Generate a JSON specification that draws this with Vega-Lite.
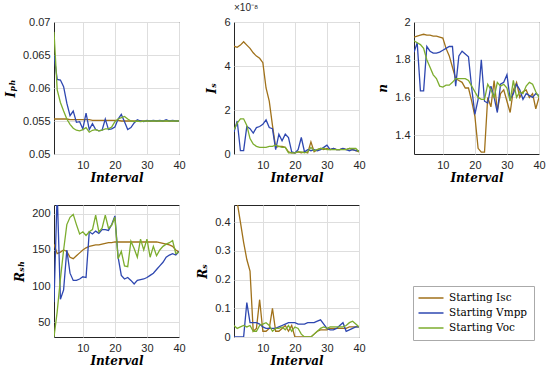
{
"$schema": "https://vega.github.io/schema/vega-lite/v6.json",
"background": "white",
"padding": {"left": 3, "top": 2, "right": 0, "bottom": 0},
"datasets": {
"d": [
{"s":"Starting Isc","x":1,"Iph":0.0553,"Is":4.9e-8,"n":1.92,"Rsh":158,"Rs":0.60},
{"s":"Starting Isc","x":2,"Iph":0.0553,"Is":4.85e-8,"n":1.925,"Rsh":145,"Rs":0.47},
{"s":"Starting Isc","x":3,"Iph":0.0553,"Is":4.95e-8,"n":1.93,"Rsh":147,"Rs":0.40},
{"s":"Starting Isc","x":4,"Iph":0.0553,"Is":5.1e-8,"n":1.935,"Rsh":150,"Rs":0.33},
{"s":"Starting Isc","x":5,"Iph":0.0553,"Is":4.95e-8,"n":1.93,"Rsh":148,"Rs":0.27},
{"s":"Starting Isc","x":6,"Iph":0.0552,"Is":4.8e-8,"n":1.93,"Rsh":140,"Rs":0.23},
{"s":"Starting Isc","x":7,"Iph":0.0552,"Is":4.6e-8,"n":1.925,"Rsh":138,"Rs":0.02},
{"s":"Starting Isc","x":8,"Iph":0.0552,"Is":4.45e-8,"n":1.925,"Rsh":142,"Rs":0.03},
{"s":"Starting Isc","x":9,"Iph":0.0552,"Is":4.35e-8,"n":1.92,"Rsh":146,"Rs":0.13},
{"s":"Starting Isc","x":10,"Iph":0.0552,"Is":4.15e-8,"n":1.915,"Rsh":150,"Rs":0.02},
{"s":"Starting Isc","x":11,"Iph":0.0552,"Is":3.0e-8,"n":1.86,"Rsh":153,"Rs":0.02},
{"s":"Starting Isc","x":12,"Iph":0.0552,"Is":2.4e-8,"n":1.82,"Rsh":155,"Rs":0.03},
{"s":"Starting Isc","x":13,"Iph":0.0551,"Is":1.3e-8,"n":1.76,"Rsh":156,"Rs":0.10},
{"s":"Starting Isc","x":14,"Iph":0.0551,"Is":0.3e-8,"n":1.70,"Rsh":157,"Rs":0.02},
{"s":"Starting Isc","x":15,"Iph":0.0551,"Is":0.35e-8,"n":1.69,"Rsh":157,"Rs":0.02},
{"s":"Starting Isc","x":16,"Iph":0.0551,"Is":0.35e-8,"n":1.68,"Rsh":158,"Rs":0.03},
{"s":"Starting Isc","x":17,"Iph":0.0551,"Is":0.3e-8,"n":1.65,"Rsh":159,"Rs":0.04},
{"s":"Starting Isc","x":18,"Iph":0.0551,"Is":0.1e-8,"n":1.65,"Rsh":160,"Rs":0.02},
{"s":"Starting Isc","x":19,"Iph":0.0551,"Is":0.05e-8,"n":1.58,"Rsh":160,"Rs":0.04},
{"s":"Starting Isc","x":20,"Iph":0.0551,"Is":0.05e-8,"n":1.50,"Rsh":161,"Rs":0.0},
{"s":"Starting Isc","x":21,"Iph":0.0551,"Is":0.1e-8,"n":1.33,"Rsh":161,"Rs":0.0},
{"s":"Starting Isc","x":22,"Iph":0.0550,"Is":0.05e-8,"n":1.31,"Rsh":161,"Rs":0.0},
{"s":"Starting Isc","x":23,"Iph":0.0550,"Is":0.1e-8,"n":1.31,"Rsh":161,"Rs":0.0},
{"s":"Starting Isc","x":24,"Iph":0.0550,"Is":0.05e-8,"n":1.60,"Rsh":161,"Rs":0.0},
{"s":"Starting Isc","x":25,"Iph":0.0550,"Is":0.55e-8,"n":1.55,"Rsh":161,"Rs":0.0},
{"s":"Starting Isc","x":26,"Iph":0.0550,"Is":0.1e-8,"n":1.69,"Rsh":161,"Rs":0.01},
{"s":"Starting Isc","x":27,"Iph":0.0550,"Is":0.2e-8,"n":1.53,"Rsh":161,"Rs":0.02},
{"s":"Starting Isc","x":28,"Iph":0.0550,"Is":0.25e-8,"n":1.62,"Rsh":161,"Rs":0.025},
{"s":"Starting Isc","x":29,"Iph":0.0550,"Is":0.2e-8,"n":1.64,"Rsh":161,"Rs":0.025},
{"s":"Starting Isc","x":30,"Iph":0.0550,"Is":0.25e-8,"n":1.58,"Rsh":161,"Rs":0.025},
{"s":"Starting Isc","x":31,"Iph":0.0550,"Is":0.2e-8,"n":1.52,"Rsh":161,"Rs":0.03},
{"s":"Starting Isc","x":32,"Iph":0.0550,"Is":0.25e-8,"n":1.64,"Rsh":161,"Rs":0.03},
{"s":"Starting Isc","x":33,"Iph":0.0550,"Is":0.2e-8,"n":1.68,"Rsh":161,"Rs":0.03},
{"s":"Starting Isc","x":34,"Iph":0.0550,"Is":0.2e-8,"n":1.60,"Rsh":160,"Rs":0.03},
{"s":"Starting Isc","x":35,"Iph":0.0550,"Is":0.25e-8,"n":1.63,"Rsh":159,"Rs":0.03},
{"s":"Starting Isc","x":36,"Iph":0.0550,"Is":0.2e-8,"n":1.64,"Rsh":158,"Rs":0.03},
{"s":"Starting Isc","x":37,"Iph":0.0550,"Is":0.25e-8,"n":1.60,"Rsh":157,"Rs":0.035},
{"s":"Starting Isc","x":38,"Iph":0.0550,"Is":0.2e-8,"n":1.62,"Rsh":155,"Rs":0.035},
{"s":"Starting Isc","x":39,"Iph":0.0550,"Is":0.15e-8,"n":1.54,"Rsh":150,"Rs":0.035},
{"s":"Starting Isc","x":40,"Iph":0.0550,"Is":0.1e-8,"n":1.60,"Rsh":147,"Rs":0.035},
{"s":"Starting Vmpp","x":1,"Iph":0.0650,"Is":1.0e-8,"n":1.84,"Rsh":78,"Rs":0.0},
{"s":"Starting Vmpp","x":2,"Iph":0.0613,"Is":1.5e-8,"n":1.89,"Rsh":230,"Rs":0.0},
{"s":"Starting Vmpp","x":3,"Iph":0.0612,"Is":0.15e-8,"n":1.635,"Rsh":82,"Rs":0.0},
{"s":"Starting Vmpp","x":4,"Iph":0.0602,"Is":0.15e-8,"n":1.635,"Rsh":95,"Rs":0.0},
{"s":"Starting Vmpp","x":5,"Iph":0.0577,"Is":1.25e-8,"n":1.87,"Rsh":150,"Rs":0.12},
{"s":"Starting Vmpp","x":6,"Iph":0.0558,"Is":1.15e-8,"n":1.845,"Rsh":118,"Rs":0.05},
{"s":"Starting Vmpp","x":7,"Iph":0.0565,"Is":0.95e-8,"n":1.835,"Rsh":108,"Rs":0.05},
{"s":"Starting Vmpp","x":8,"Iph":0.0548,"Is":1.2e-8,"n":1.835,"Rsh":108,"Rs":0.05},
{"s":"Starting Vmpp","x":9,"Iph":0.0549,"Is":1.25e-8,"n":1.84,"Rsh":110,"Rs":0.045},
{"s":"Starting Vmpp","x":10,"Iph":0.0538,"Is":1.35e-8,"n":1.85,"Rsh":113,"Rs":0.035},
{"s":"Starting Vmpp","x":11,"Iph":0.0562,"Is":1.55e-8,"n":1.86,"Rsh":112,"Rs":0.03},
{"s":"Starting Vmpp","x":12,"Iph":0.0537,"Is":1.2e-8,"n":1.87,"Rsh":175,"Rs":0.03},
{"s":"Starting Vmpp","x":13,"Iph":0.0546,"Is":1.15e-8,"n":1.87,"Rsh":172,"Rs":0.03},
{"s":"Starting Vmpp","x":14,"Iph":0.0537,"Is":0.2e-8,"n":1.66,"Rsh":176,"Rs":0.03},
{"s":"Starting Vmpp","x":15,"Iph":0.0535,"Is":0.9e-8,"n":1.82,"Rsh":173,"Rs":0.035},
{"s":"Starting Vmpp","x":16,"Iph":0.0536,"Is":0.6e-8,"n":1.845,"Rsh":178,"Rs":0.04},
{"s":"Starting Vmpp","x":17,"Iph":0.0553,"Is":0.9e-8,"n":1.83,"Rsh":178,"Rs":0.045},
{"s":"Starting Vmpp","x":18,"Iph":0.0537,"Is":0.75e-8,"n":1.815,"Rsh":177,"Rs":0.05},
{"s":"Starting Vmpp","x":19,"Iph":0.0538,"Is":0.1e-8,"n":1.65,"Rsh":185,"Rs":0.05},
{"s":"Starting Vmpp","x":20,"Iph":0.0541,"Is":0.05e-8,"n":1.51,"Rsh":197,"Rs":0.05},
{"s":"Starting Vmpp","x":21,"Iph":0.0553,"Is":0.2e-8,"n":1.59,"Rsh":140,"Rs":0.045},
{"s":"Starting Vmpp","x":22,"Iph":0.0560,"Is":0.75e-8,"n":1.80,"Rsh":115,"Rs":0.045},
{"s":"Starting Vmpp","x":23,"Iph":0.0549,"Is":0.1e-8,"n":1.58,"Rsh":110,"Rs":0.045},
{"s":"Starting Vmpp","x":24,"Iph":0.0537,"Is":0.2e-8,"n":1.57,"Rsh":112,"Rs":0.05},
{"s":"Starting Vmpp","x":25,"Iph":0.0540,"Is":0.15e-8,"n":1.66,"Rsh":108,"Rs":0.05},
{"s":"Starting Vmpp","x":26,"Iph":0.0547,"Is":0.2e-8,"n":1.60,"Rsh":103,"Rs":0.05},
{"s":"Starting Vmpp","x":27,"Iph":0.0552,"Is":0.15e-8,"n":1.52,"Rsh":108,"Rs":0.055},
{"s":"Starting Vmpp","x":28,"Iph":0.0550,"Is":0.2e-8,"n":1.67,"Rsh":109,"Rs":0.06},
{"s":"Starting Vmpp","x":29,"Iph":0.0549,"Is":0.3e-8,"n":1.68,"Rsh":110,"Rs":0.045},
{"s":"Starting Vmpp","x":30,"Iph":0.0551,"Is":0.4e-8,"n":1.72,"Rsh":112,"Rs":0.03},
{"s":"Starting Vmpp","x":31,"Iph":0.0550,"Is":0.2e-8,"n":1.59,"Rsh":115,"Rs":0.025},
{"s":"Starting Vmpp","x":32,"Iph":0.0551,"Is":0.25e-8,"n":1.62,"Rsh":118,"Rs":0.025},
{"s":"Starting Vmpp","x":33,"Iph":0.0550,"Is":0.2e-8,"n":1.67,"Rsh":123,"Rs":0.03},
{"s":"Starting Vmpp","x":34,"Iph":0.0551,"Is":0.2e-8,"n":1.64,"Rsh":128,"Rs":0.04},
{"s":"Starting Vmpp","x":35,"Iph":0.0550,"Is":0.25e-8,"n":1.59,"Rsh":133,"Rs":0.05},
{"s":"Starting Vmpp","x":36,"Iph":0.0552,"Is":0.2e-8,"n":1.62,"Rsh":140,"Rs":0.02},
{"s":"Starting Vmpp","x":37,"Iph":0.0550,"Is":0.15e-8,"n":1.61,"Rsh":143,"Rs":0.025},
{"s":"Starting Vmpp","x":38,"Iph":0.0551,"Is":0.2e-8,"n":1.60,"Rsh":145,"Rs":0.03},
{"s":"Starting Vmpp","x":39,"Iph":0.0550,"Is":0.15e-8,"n":1.62,"Rsh":143,"Rs":0.035},
{"s":"Starting Vmpp","x":40,"Iph":0.0550,"Is":0.15e-8,"n":1.61,"Rsh":148,"Rs":0.035},
{"s":"Starting Voc","x":1,"Iph":0.0685,"Is":1.1e-8,"n":1.90,"Rsh":30,"Rs":0.04},
{"s":"Starting Voc","x":2,"Iph":0.0597,"Is":1.4e-8,"n":1.89,"Rsh":65,"Rs":0.03},
{"s":"Starting Voc","x":3,"Iph":0.0578,"Is":1.6e-8,"n":1.88,"Rsh":110,"Rs":0.035},
{"s":"Starting Voc","x":4,"Iph":0.0565,"Is":1.6e-8,"n":1.86,"Rsh":150,"Rs":0.04},
{"s":"Starting Voc","x":5,"Iph":0.0553,"Is":1.3e-8,"n":1.80,"Rsh":185,"Rs":0.035},
{"s":"Starting Voc","x":6,"Iph":0.0545,"Is":0.7e-8,"n":1.76,"Rsh":195,"Rs":0.04},
{"s":"Starting Voc","x":7,"Iph":0.0539,"Is":0.45e-8,"n":1.72,"Rsh":199,"Rs":0.02},
{"s":"Starting Voc","x":8,"Iph":0.0536,"Is":0.35e-8,"n":1.70,"Rsh":185,"Rs":0.02},
{"s":"Starting Voc","x":9,"Iph":0.0535,"Is":0.3e-8,"n":1.66,"Rsh":172,"Rs":0.04},
{"s":"Starting Voc","x":10,"Iph":0.0537,"Is":0.3e-8,"n":1.655,"Rsh":175,"Rs":0.045},
{"s":"Starting Voc","x":11,"Iph":0.0540,"Is":0.3e-8,"n":1.665,"Rsh":170,"Rs":0.05},
{"s":"Starting Voc","x":12,"Iph":0.0533,"Is":0.35e-8,"n":1.665,"Rsh":175,"Rs":0.04},
{"s":"Starting Voc","x":13,"Iph":0.0536,"Is":0.35e-8,"n":1.68,"Rsh":178,"Rs":0.02},
{"s":"Starting Voc","x":14,"Iph":0.0537,"Is":0.4e-8,"n":1.70,"Rsh":198,"Rs":0.03},
{"s":"Starting Voc","x":15,"Iph":0.0535,"Is":0.35e-8,"n":1.70,"Rsh":175,"Rs":0.03},
{"s":"Starting Voc","x":16,"Iph":0.0536,"Is":0.3e-8,"n":1.70,"Rsh":180,"Rs":0.035},
{"s":"Starting Voc","x":17,"Iph":0.0538,"Is":0.3e-8,"n":1.70,"Rsh":198,"Rs":0.025},
{"s":"Starting Voc","x":18,"Iph":0.0538,"Is":0.05e-8,"n":1.69,"Rsh":180,"Rs":0.04},
{"s":"Starting Voc","x":19,"Iph":0.0541,"Is":0.05e-8,"n":1.66,"Rsh":184,"Rs":0.02},
{"s":"Starting Voc","x":20,"Iph":0.0549,"Is":0.05e-8,"n":1.63,"Rsh":195,"Rs":0.035},
{"s":"Starting Voc","x":21,"Iph":0.0553,"Is":0.1e-8,"n":1.60,"Rsh":138,"Rs":0.03},
{"s":"Starting Voc","x":22,"Iph":0.0555,"Is":0.1e-8,"n":1.59,"Rsh":148,"Rs":0.01},
{"s":"Starting Voc","x":23,"Iph":0.0557,"Is":0.05e-8,"n":1.59,"Rsh":128,"Rs":0.0},
{"s":"Starting Voc","x":24,"Iph":0.0553,"Is":0.1e-8,"n":1.67,"Rsh":127,"Rs":0.0},
{"s":"Starting Voc","x":25,"Iph":0.0550,"Is":0.3e-8,"n":1.64,"Rsh":162,"Rs":0.0},
{"s":"Starting Voc","x":26,"Iph":0.0549,"Is":0.15e-8,"n":1.60,"Rsh":152,"Rs":0.01},
{"s":"Starting Voc","x":27,"Iph":0.0550,"Is":0.2e-8,"n":1.68,"Rsh":140,"Rs":0.02},
{"s":"Starting Voc","x":28,"Iph":0.0549,"Is":0.25e-8,"n":1.66,"Rsh":165,"Rs":0.03},
{"s":"Starting Voc","x":29,"Iph":0.0550,"Is":0.25e-8,"n":1.67,"Rsh":150,"Rs":0.035},
{"s":"Starting Voc","x":30,"Iph":0.0550,"Is":0.2e-8,"n":1.65,"Rsh":165,"Rs":0.03},
{"s":"Starting Voc","x":31,"Iph":0.0550,"Is":0.2e-8,"n":1.58,"Rsh":140,"Rs":0.035},
{"s":"Starting Voc","x":32,"Iph":0.0550,"Is":0.2e-8,"n":1.69,"Rsh":155,"Rs":0.035},
{"s":"Starting Voc","x":33,"Iph":0.0550,"Is":0.2e-8,"n":1.60,"Rsh":142,"Rs":0.035},
{"s":"Starting Voc","x":34,"Iph":0.0550,"Is":0.2e-8,"n":1.63,"Rsh":150,"Rs":0.035},
{"s":"Starting Voc","x":35,"Iph":0.0550,"Is":0.2e-8,"n":1.62,"Rsh":155,"Rs":0.035},
{"s":"Starting Voc","x":36,"Iph":0.0550,"Is":0.2e-8,"n":1.66,"Rsh":158,"Rs":0.04},
{"s":"Starting Voc","x":37,"Iph":0.0550,"Is":0.25e-8,"n":1.68,"Rsh":160,"Rs":0.05},
{"s":"Starting Voc","x":38,"Iph":0.0550,"Is":0.25e-8,"n":1.67,"Rsh":163,"Rs":0.055},
{"s":"Starting Voc","x":39,"Iph":0.0550,"Is":0.25e-8,"n":1.63,"Rsh":145,"Rs":0.045},
{"s":"Starting Voc","x":40,"Iph":0.0550,"Is":0.1e-8,"n":1.60,"Rsh":147,"Rs":0.035}
]
},
"data": {"name": "d"},
"columns": 3,
"spacing": {"column": 55, "row": 51},
"bounds": "flush",
"concat": [
{"width":125,"height":132,
 "mark":{"type":"line","clip":true,"strokeWidth":1.3},
 "encoding":{
  "x":{"field":"x","type":"quantitative","scale":{"domain":[1,40],"nice":false},"axis":{"values":[10,20,30,40],"title":"Interval"}},
  "y":{"field":"Iph","type":"quantitative","scale":{"domain":[0.05,0.07],"nice":false,"zero":false},"axis":{"values":[0.05,0.055,0.06,0.065,0.07],"format":"~g","title":"Iₚₕ"}},
  "color":{"field":"s","type":"nominal","scale":{"domain":["Starting Isc","Starting Vmpp","Starting Voc"],"range":["#A0711A","#2E47B0","#7CAD2E"]},"legend":{"title":null}}}},
{"width":125,"height":132,
 "title":{"text":"×10⁻⁸","anchor":"start","frame":"group","fontSize":10,"font":"Liberation Sans","fontWeight":"normal","color":"#262626","offset":3},
 "mark":{"type":"line","clip":true,"strokeWidth":1.3},
 "encoding":{
  "x":{"field":"x","type":"quantitative","scale":{"domain":[1,40],"nice":false},"axis":{"values":[10,20,30,40],"title":"Interval"}},
  "y":{"field":"Is","type":"quantitative","scale":{"domain":[0,6e-8],"nice":false},"axis":{"values":[0,2e-8,4e-8,6e-8],"labelExpr":"format(datum.value*1e8,'~g')","title":"Iₛ"}},
  "color":{"field":"s","type":"nominal","scale":{"domain":["Starting Isc","Starting Vmpp","Starting Voc"],"range":["#A0711A","#2E47B0","#7CAD2E"]},"legend":{"title":null}}}},
{"width":125,"height":132,
 "mark":{"type":"line","clip":true,"strokeWidth":1.3},
 "encoding":{
  "x":{"field":"x","type":"quantitative","scale":{"domain":[1,40],"nice":false},"axis":{"values":[10,20,30,40],"title":"Interval"}},
  "y":{"field":"n","type":"quantitative","scale":{"domain":[1.3,2],"nice":false,"zero":false},"axis":{"values":[1.4,1.6,1.8,2],"format":"~g","title":"n"}},
  "color":{"field":"s","type":"nominal","scale":{"domain":["Starting Isc","Starting Vmpp","Starting Voc"],"range":["#A0711A","#2E47B0","#7CAD2E"]},"legend":{"title":null}}}},
{"width":125,"height":132,
 "mark":{"type":"line","clip":true,"strokeWidth":1.3},
 "encoding":{
  "x":{"field":"x","type":"quantitative","scale":{"domain":[1,40],"nice":false},"axis":{"values":[10,20,30,40],"title":"Interval"}},
  "y":{"field":"Rsh","type":"quantitative","scale":{"domain":[30,212],"nice":false,"zero":false},"axis":{"values":[50,100,150,200],"title":"Rₛₕ"}},
  "color":{"field":"s","type":"nominal","scale":{"domain":["Starting Isc","Starting Vmpp","Starting Voc"],"range":["#A0711A","#2E47B0","#7CAD2E"]},"legend":{"title":null}}}},
{"width":125,"height":132,
 "mark":{"type":"line","clip":true,"strokeWidth":1.3},
 "encoding":{
  "x":{"field":"x","type":"quantitative","scale":{"domain":[1,40],"nice":false},"axis":{"values":[10,20,30,40],"title":"Interval"}},
  "y":{"field":"Rs","type":"quantitative","scale":{"domain":[0,0.46],"nice":false},"axis":{"values":[0,0.1,0.2,0.3,0.4],"format":"~g","title":"Rₛ"}},
  "color":{"field":"s","type":"nominal","scale":{"domain":["Starting Isc","Starting Vmpp","Starting Voc"],"range":["#A0711A","#2E47B0","#7CAD2E"]},"legend":{"title":null}}}}
],
"resolve": {"scale": {"color": "shared"}},
"config": {
 "view": {"stroke": "#262626", "strokeWidth": 1},
 "axis": {"labelFont": "Liberation Sans", "labelFontSize": 11, "labelColor": "#262626", "labelFlush": false, "labelOverlap": false, "domain": false, "ticks": false, "labelPadding": 4, "gridColor": "#dedede", "gridWidth": 1, "titleFont": "DejaVu Serif", "titleFontStyle": "italic", "titleFontWeight": "bold", "titleFontSize": 12, "titleColor": "#000000"},
 "axisX": {"titlePadding": 2, "labelPadding": 5},
 "axisY": {"titlePadding": 5},
 "legend": {"orient": "none", "legendX": 359, "legendY": 264, "symbolType": "M-2.5,0H2.5", "symbolSize": 100, "symbolOffset": 6, "symbolStrokeWidth": 1.5, "labelFont": "DejaVu Serif", "labelFontSize": 10.5, "labelColor": "#000000", "labelOffset": 12, "strokeColor": "#aaaaaa", "fillColor": "#ffffff", "padding": 6, "rowPadding": 3}
}
}
